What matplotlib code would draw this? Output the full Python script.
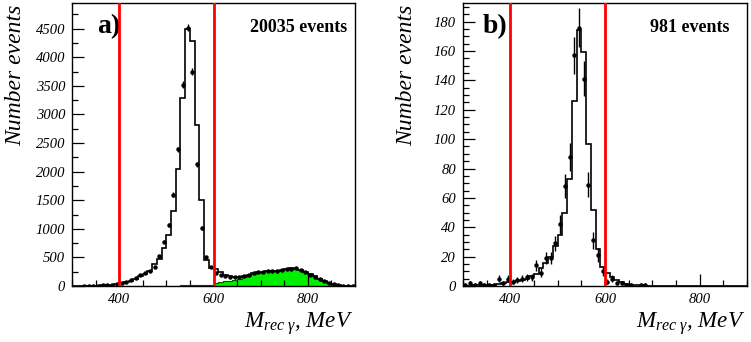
import matplotlib
matplotlib.use("Agg")
import matplotlib.pyplot as plt
from matplotlib.ticker import MultipleLocator
import numpy as np

plt.rcParams["font.family"] = ["Liberation Serif", "DejaVu Serif"]
plt.rcParams["mathtext.fontset"] = "custom"
plt.rcParams["mathtext.rm"] = "Liberation Serif"
plt.rcParams["mathtext.it"] = "Liberation Serif:italic"

# 10 MeV bins from 300 to 900 MeV
bin_edges = np.arange(300, 901, 10)
bin_centers = bin_edges[:-1] + 5

# panel a) : data, MC total, background (green)
data_a = [0, 0, 1, 2, 4, 7, 14, 17, 25, 38,
          58, 76, 99, 134, 187, 222, 269, 339, 520, 775,
          1070, 1600, 2390, 3520, 4520, 3750, 2130, 1010, 500, 330,
          222, 193, 175, 158, 152, 163, 175, 199, 222, 239,
          245, 257, 257, 269, 280, 304, 300, 310, 280, 245,
          199, 163, 117, 82, 58, 35, 18, 6, 2, 1]
mc_a = [0, 1, 2, 3, 5, 8, 12, 18, 26, 38,
        55, 70, 95, 125, 170, 210, 270, 380, 480, 670,
        900, 1310, 2055, 3280, 4500, 4290, 2810, 1500, 460, 310,
        290, 240, 200, 175, 160, 165, 175, 200, 225, 240,
        250, 260, 262, 270, 282, 295, 310, 300, 285, 250,
        210, 170, 125, 90, 60, 38, 20, 8, 3, 1]
bkg_a = [0, 0, 0, 1, 1, 1, 1, 2, 2, 2,
         3, 3, 3, 4, 4, 5, 5, 6, 6, 7,
         7, 8, 8, 9, 9, 10, 11, 12, 15, 25,
         55, 70, 85, 95, 108, 130, 155, 188, 215, 235,
         245, 255, 258, 266, 278, 292, 308, 298, 283, 248,
         208, 168, 123, 88, 58, 36, 18, 7, 2, 1]

# panel b)
data_b = [1, 2, 1, 2, 1, 1, 1, 5, 2, 5,
          3, 4, 5, 6, 6, 14, 9, 19, 19, 29,
          42, 68, 88, 157, 176, 141, 69, 31, 21, 10,
          3, 5, 2, 2, 1, 1, 0, 1, 1, 0,
          0, 0, 0, 0, 0, 0, 0, 0, 0, 0,
          0, 0, 0, 0, 0, 0, 0, 0, 0, 0]
mc_b = [0.3, 0.3, 0.4, 0.4, 0.5, 0.8, 1, 1.5, 2, 2.5,
        3, 3.5, 4, 5, 7, 8, 12, 16, 20, 27,
        35, 50, 73, 126, 174, 159, 97, 52, 25, 13,
        9, 6, 4, 2.5, 1.5, 1, 0.5, 0.5, 0.3, 0.3,
        0.2, 0.2, 0.1, 0.1, 0.1, 0.1, 0.1, 0.1, 0.1, 0.1,
        0.1, 0.1, 0.1, 0.1, 0.1, 0.1, 0.1, 0.1, 0.1, 0.1]

cut_lines = [400, 600]

fig = plt.figure(figsize=(7.51, 3.42), dpi=100)
ax_a = fig.add_axes([72 / 751, 56 / 342, 283 / 751, 283 / 342])
ax_b = fig.add_axes([463 / 751, 56 / 342, 284 / 751, 283 / 342])


def style_axes(ax, ymax, ymajor, yminor):
    ax.set_xlim(300, 900)
    ax.set_ylim(0, ymax)
    ax.xaxis.set_major_locator(MultipleLocator(200))
    ax.xaxis.set_minor_locator(MultipleLocator(50))
    ax.yaxis.set_major_locator(MultipleLocator(ymajor))
    ax.yaxis.set_minor_locator(MultipleLocator(yminor))
    ax.tick_params(which="both", direction="in", top=False, right=False,
                   labelsize=10.5, width=0.9)
    ax.tick_params(which="major", length=8.5, pad=5)
    ax.tick_params(which="minor", length=4.3)
    for lab in ax.get_xticklabels() + ax.get_yticklabels():
        lab.set_fontstyle("italic")
    for sp in ax.spines.values():
        sp.set_linewidth(1.0)
    ax.text(-0.2, 0.993, "Number events", transform=ax.transAxes,
            rotation=90, ha="center", va="top", fontsize=17, style="italic")
    ax.text(0.993, -0.148, r"$M_{rec\ \gamma}$, MeV", transform=ax.transAxes,
            ha="right", va="baseline", fontsize=16.5, style="italic")
    for x in cut_lines:
        ax.axvline(x, color="red", lw=2.0, zorder=5)


def draw_points(ax, values):
    vals = np.array(values, dtype=float)
    keep = vals > 0
    ax.errorbar(bin_centers[keep], vals[keep], yerr=np.sqrt(vals[keep]),
                fmt="o", ms=2.2, color="k", elinewidth=1.0, capsize=0, zorder=4)


# panel a
ax_a.stairs(bkg_a, bin_edges, fill=True, color="#00ee00", zorder=1)
ax_a.stairs(bkg_a, bin_edges, color="#005500", lw=0.8, zorder=2)
ax_a.stairs(mc_a, bin_edges, color="k", lw=1.2, zorder=3)
draw_points(ax_a, data_a)
style_axes(ax_a, 4950, 500, 250)
ax_a.text(0.088, 0.894, "a)", transform=ax_a.transAxes, ha="left",
          va="baseline", fontsize=20, fontweight="bold")
ax_a.text(0.972, 0.899, "20035 events", transform=ax_a.transAxes, ha="right",
          va="baseline", fontsize=13, fontweight="bold")

# panel b
ax_b.stairs(mc_b, bin_edges, color="k", lw=1.2, zorder=3)
draw_points(ax_b, data_b)
style_axes(ax_b, 192.7, 20, 5)
ax_b.text(0.070, 0.894, "b)", transform=ax_b.transAxes, ha="left",
          va="baseline", fontsize=20, fontweight="bold")
ax_b.text(0.940, 0.899, "981 events", transform=ax_b.transAxes, ha="right",
          va="baseline", fontsize=13, fontweight="bold")

fig.savefig("out.png", dpi=100)
